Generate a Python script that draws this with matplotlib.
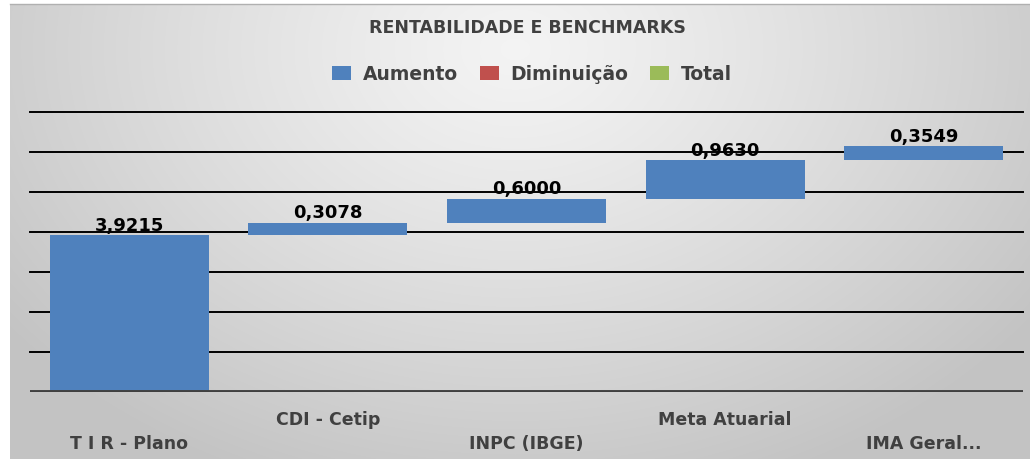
import numpy as np
import matplotlib
matplotlib.use("Agg")
import matplotlib.pyplot as plt
from matplotlib.patches import Patch
from matplotlib.transforms import blended_transform_factory

# waterfall data: every step is an "Aumento"
categories = ["T I R - Plano", "CDI - Cetip", "INPC (IBGE)", "Meta Atuarial", "IMA Geral..."]
values = [3.9215, 0.3078, 0.6000, 0.9630, 0.3549]
value_labels = ["3,9215", "0,3078", "0,6000", "0,9630", "0,3549"]
legend_labels = ["Aumento", "Diminuição", "Total"]

blue, red, green = "#4F81BD", "#C0504D", "#9BBB59"
text_gray = "#404040"

plt.rcParams["font.family"] = ["DejaVu Sans"]

fig = plt.figure(figsize=(10.3, 4.6), dpi=100, facecolor="white")

# gray radial gradient background of the chart area
bg = fig.add_axes([10 / 1030, 0, 1020 / 1030, 455 / 460], zorder=-10)
h, w = 455, 1020
yy, xx = np.mgrid[0:h, 0:w]
d = np.sqrt(((xx - 505) / 640.0) ** 2 + ((yy - 45) / 470.0) ** 2)
d = np.clip(d, 0, 1)
shade = 0.955 - (0.955 - 0.765) * d ** 1.2
bg.imshow(np.dstack([shade, shade, shade]), aspect="auto", interpolation="bilinear")
bg.set_axis_off()
fig.add_artist(plt.Line2D([10 / 1030, 1], [455 / 460, 455 / 460], color="#b0b0b0", lw=1))

ax = fig.add_axes([30 / 1030, 1 - 393 / 460, 993 / 1030, 280 / 460])
ax.set_facecolor("none")

x = np.arange(len(categories))
vals = np.array(values)
bottoms = np.concatenate([[0], np.cumsum(vals)[:-1]])
bars = ax.bar(x, vals, bottom=bottoms, width=0.8, color=blue, zorder=3)

for xi, b, v, lab in zip(x, bottoms, vals, value_labels):
    ax.annotate(lab, (xi, b + v), xytext=(0, 1), textcoords="offset points",
                ha="center", va="bottom", fontsize=13, fontweight="bold",
                color="black", zorder=5)

ax.set_xlim(-0.5, len(categories) - 0.5)
ax.set_ylim(0, 7)
ax.set_yticks(range(1, 8))
ax.yaxis.grid(True, color="black", lw=1.4)
for gl in ax.get_ygridlines():
    gl.set_clip_on(False)
ax.set_axisbelow(True)
ax.tick_params(left=False, bottom=False, labelleft=False, labelbottom=False)
for s in ax.spines.values():
    s.set_visible(False)
ax.axhline(0, color=text_gray, lw=2.8, zorder=4)

# staggered category labels
trans = blended_transform_factory(ax.transData, ax.transAxes)
for xi, cat in zip(x, categories):
    ypos = -0.182 if xi % 2 == 0 else -0.096
    ax.text(xi, ypos, cat, transform=trans, ha="center", va="center",
            fontsize=12.5, fontweight="bold", color=text_gray)

fig.text(527 / 1030, 1 - 28 / 460, "RENTABILIDADE E BENCHMARKS", ha="center", va="center",
         fontsize=12.5, fontweight="bold", color=text_gray)

handles = [Patch(facecolor=c, edgecolor="none") for c in (blue, red, green)]
leg = fig.legend(handles, legend_labels, loc="center", bbox_to_anchor=(532 / 1030, 1 - 75 / 460),
                 ncol=3, frameon=False, fontsize=13.5, handlelength=1.0, handleheight=0.75,
                 handletextpad=0.6, columnspacing=1.2)
for t in leg.get_texts():
    t.set_color(text_gray)
    t.set_fontweight("bold")

fig.savefig("out.png", dpi=100, facecolor="white")
